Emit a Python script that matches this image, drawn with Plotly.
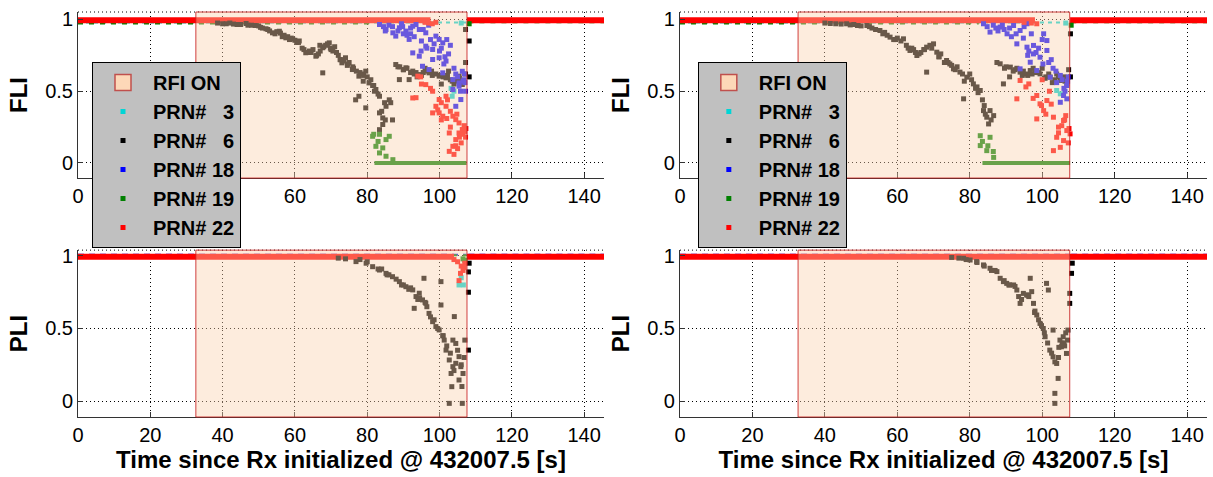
import plotly.graph_objects as go

# ---------------- data ----------------
rfi_start = 32.6
rfi_end = 107.6
x_ticks = [0, 20, 40, 60, 80, 100, 120, 140]
y_ticks = [0, 0.5, 1]
y_tick_text = ["0", "0.5", "1"]
prn_names = ["PRN#\u00a0\u00a0\u00a03", "PRN#\u00a0\u00a0\u00a06", "PRN#\u00a018", "PRN#\u00a019", "PRN#\u00a022"]
prn_colors = ["#00d5d5", "#000000", "#0000ff", "#008000", "#ff0000"]

# steady (locked) segments: time, value  (None = gap)
fli_L_base = {
    "3":  ([0, 107.5, None, 108, 145.5], [0.978, 0.978, None, 0.985, 0.985]),
    "6":  ([0, 38, None, 108, 145.5], [0.982, 0.982, None, 0.985, 0.985]),
    "18": ([0, 83, None, 108, 145.5], [0.985, 0.985, None, 0.99, 0.99]),
    "19": ([0, 81.5, None, 108, 145.5], [0.972, 0.972, None, 0.98, 0.98]),
    "22": ([0, 97.5, None, 107.6, 145.5], [0.995, 0.995, None, 0.995, 0.995]),
}
fli_L_zero19 = ([82, 107.5], [0.0, 0.0])
fli_R_base = {
    "3":  ([0, 107.6, None, 108, 145.5], [0.978, 0.978, None, 0.985, 0.985]),
    "6":  ([0, 39, None, 108, 145.5], [0.982, 0.982, None, 0.985, 0.985]),
    "18": ([0, 83, None, 108, 145.5], [0.985, 0.985, None, 0.99, 0.99]),
    "19": ([0, 82.5, None, 108, 145.5], [0.972, 0.972, None, 0.98, 0.98]),
    "22": ([0, 98, None, 107.7, 145.5], [0.995, 0.995, None, 0.995, 0.995]),
}
fli_R_zero19 = ([83.5, 107.7], [0.0, 0.0])
pli_L_base = {
    "3":  ([0, 104, None, 108, 145.5], [1.0, 1.0, None, 1.0, 1.0]),
    "6":  ([0, 72, None, 108.5, 145.5], [1.0, 1.0, None, 1.0, 1.0]),
    "18": ([0, 107.5, None, 108, 145.5], [1.008, 1.008, None, 1.008, 1.008]),
    "19": ([0, 107.5, None, 108, 145.5], [1.005, 1.005, None, 1.005, 1.005]),
    "22": ([0, 104, None, 107.6, 145.5], [0.995, 0.995, None, 0.995, 0.995]),
}
pli_R_base = {
    "3":  ([0, 107.5, None, 108, 145.5], [1.0, 1.0, None, 1.0, 1.0]),
    "6":  ([0, 74, None, 108.5, 145.5], [1.0, 1.0, None, 1.0, 1.0]),
    "18": ([0, 107.5, None, 108, 145.5], [1.008, 1.008, None, 1.008, 1.008]),
    "19": ([0, 107.5, None, 108, 145.5], [1.005, 1.005, None, 1.005, 1.005]),
    "22": ([0, 107.6, None, 107.6, 145.5], [0.995, 0.995, None, 0.995, 0.995]),
}

# ---- scattered samples, top-left FLI ----
fli_L_t3 = [103.5, 103.2, 104.0, 106.0]
fli_L_v3 = [0.465, 0.52, 0.50, 0.975]
fli_L_t6 = [38.6, 40, 42, 44, 46.5, 48, 50, 51, 52.5, 53.8, 55, 55.7, 57, 57.5, 59, 59.4, 61.2, 62, 63, 64,
            65, 65.8, 66.5, 67.7, 68.5, 69.5, 70.5, 71, 67.7, 72, 73, 74, 75, 75.9, 77, 77.7, 78.5, 79.6, 80.5, 81,
            82.4, 83.4, 77.7, 76.8, 79.6, 83.4, 84.3, 85.2, 86.1, 84.3, 83.4, 85.0, 87.9, 89, 90.7, 92.6, 94.4, 88.9, 91.6, 93,
            95.5, 97.1, 98, 99.9, 101, 101.8, 103, 104.5, 105.5, 106.3, 105.4, 106.8, 100.5, 102.5, 96, 107.2, 107.2, 107.2, 108.2, 108.2,
            60.5, 63.8, 66.9, 69.8, 72.6, 74.6, 76.2, 78.9, 81.8, 84.8, 90, 93.8, 97.8, 102.2, 104,
            41, 43, 45, 47, 49, 50.5, 52, 53, 54.5, 56, 56.5, 58, 58.5, 60, 61, 62.5, 64.5, 66, 67, 68,
            69, 70, 71.5, 72.5, 73.5, 74.5, 76, 78, 79, 80, 81.5, 82, 83, 84, 86.5, 87, 88.5, 90, 91, 92,
            93.5, 95, 96.5, 99, 100, 103.5, 105, 106]
fli_L_v6 = [0.975, 0.97, 0.975, 0.965, 0.972, 0.96, 0.955, 0.94, 0.93, 0.907, 0.915, 0.918, 0.89, 0.872, 0.87, 0.863, 0.85, 0.80, 0.768, 0.78,
            0.79, 0.744, 0.76, 0.803, 0.82, 0.837, 0.78, 0.81, 0.628, 0.75, 0.698, 0.733, 0.70, 0.651, 0.64, 0.605, 0.62, 0.64, 0.558, 0.58,
            0.512, 0.465, 0.465, 0.44, 0.384, 0.349, 0.314, 0.395, 0.44, 0.268, 0.232, 0.30, 0.686, 0.67, 0.663, 0.640, 0.616, 0.581, 0.581, 0.62,
            0.63, 0.628, 0.61, 0.605, 0.60, 0.593, 0.58, 0.57, 0.59, 0.547, 0.605, 0.56, 0.55, 0.64, 0.66, 0.62, 0.70, 0.93, 0.60, 0.85,
            0.84, 0.77, 0.82, 0.80, 0.72, 0.69, 0.66, 0.57, 0.54, 0.42, 0.65, 0.60, 0.64, 0.61, 0.55,
            0.97, 0.968, 0.965, 0.96, 0.958, 0.945, 0.935, 0.92, 0.90, 0.905, 0.88, 0.88, 0.86, 0.855, 0.84, 0.79, 0.77, 0.75, 0.78, 0.81,
            0.83, 0.79, 0.77, 0.72, 0.71, 0.68, 0.67, 0.63, 0.61, 0.60, 0.54, 0.50, 0.48, 0.36, 0.42, 0.30, 0.67, 0.65, 0.66, 0.63,
            0.63, 0.61, 0.64, 0.62, 0.61, 0.57, 0.58, 0.57]
fli_L_t18 = [83.4, 85.2, 87.1, 88.9, 90.7, 92.6, 94.4, 96.2, 87.9, 91.6, 92.6, 94.4, 96.2, 98.1, 99, 99.9, 100.9, 98.1, 99.9, 101.8,
             95.3, 97.1, 100.9, 103.7, 105.4, 106.3, 103.7, 104.5, 105.9, 105.4, 86, 89.5, 93.5, 97, 84.5, 91, 95, 102.5, 103, 104,
             106.8, 107.2, 100, 97.5, 89.8, 92, 94.9, 101.2, 105, 106.9,
             85, 87, 88.5, 90, 92, 93, 95.5, 96.5, 98.5, 100.5, 101.5, 102, 104.5, 105.8, 106.5, 107]
fli_L_v18 = [0.965, 0.93, 0.907, 0.942, 0.919, 0.953, 0.93, 0.907, 0.884, 0.861, 0.767, 0.744, 0.814, 0.791, 0.884, 0.861, 0.837, 0.721, 0.733, 0.71,
             0.674, 0.651, 0.628, 0.581, 0.535, 0.639, 0.512, 0.395, 0.442, 0.558, 0.96, 0.97, 0.965, 0.96, 0.95, 0.89, 0.85, 0.76, 0.82, 0.66,
             0.58, 0.50, 0.78, 0.86, 0.95, 0.90, 0.78, 0.69, 0.60, 0.62,
             0.92, 0.95, 0.92, 0.90, 0.94, 0.88, 0.93, 0.80, 0.83, 0.80, 0.74, 0.86, 0.62, 0.50, 0.57, 0.56]
fli_L_t19 = [81.5, 83.4, 85.2, 86.1, 82.4, 84.3, 83.4, 85.2, 87.1, 81.8, 83.0, 108.2]
fli_L_v19 = [0.186, 0.20, 0.163, 0.186, 0.116, 0.105, 0.07, 0.047, 0.023, 0.20, 0.15, 0.97]
fli_L_t22 = [92.6, 94.0, 96.2, 98.1, 99.0, 99.9, 98.1, 100.9, 101.8, 102.7, 103.7, 104.5, 105.4, 106.3, 104.5, 105.4, 103.7, 99.9, 101.8, 102.7,
             93.5, 100.5, 103.0, 106.8, 107.2, 105.0, 104.0, 106.0, 96, 97, 98, 99, 94.8, 102.2, 104.8, 107.0,
             95, 97.5, 99.5, 100.5, 102, 103, 104.5, 105.5, 106.5, 107.3]
fli_L_v22 = [0.453, 0.605, 0.546, 0.50, 0.395, 0.442, 0.349, 0.326, 0.465, 0.209, 0.116, 0.163, 0.209, 0.233, 0.302, 0.279, 0.326, 0.349, 0.395, 0.081,
             0.455, 0.30, 0.36, 0.26, 0.18, 0.10, 0.06, 0.14, 0.98, 0.975, 0.97, 0.98, 0.60, 0.44, 0.34, 0.22,
             0.55, 0.52, 0.37, 0.42, 0.31, 0.25, 0.12, 0.18, 0.20, 0.24]

# ---- scattered samples, top-right FLI ----
fli_R_t3 = [105.0, 104.0, 106.5]
fli_R_v3 = [0.482, 0.505, 0.975]
fli_R_t6 = [40, 43, 46, 48, 50, 51.6, 53, 55.2, 56.5, 58, 60, 61.7, 62.5, 63.5, 64.5, 65.4, 66.5, 68.1, 69, 70,
            70.9, 72, 68.1, 73.6, 74.5, 75.5, 76.5, 77.3, 79.2, 80, 81, 82, 82.9, 78.3, 83.8, 84.7, 85.6, 86.6, 85.2, 84,
            88.4, 90, 91.2, 92.5, 93.9, 95.5, 96.7, 98, 99.4, 101, 102.2, 103.5, 105, 106, 106.8, 89.3, 91, 100, 104, 107.3,
            107.8, 107.8, 59, 64, 67.3, 71.5, 75, 78.5, 81.6, 83.5, 94.5, 97.5, 102.8, 105.5,
            41.5, 44.5, 47, 49, 52.3, 54, 56, 57.2, 59.5, 61, 63, 65, 66, 67.5, 69.5, 71.5, 73, 74, 76, 78,
            80.5, 82.3, 84.3, 85.9, 87.5, 89.6, 92, 93, 94.8, 96, 97.2, 99, 100.8, 101.8, 104.5, 106.3]
fli_R_v6 = [0.975, 0.97, 0.97, 0.965, 0.955, 0.958, 0.94, 0.923, 0.91, 0.877, 0.87, 0.865, 0.82, 0.784, 0.79, 0.749, 0.77, 0.807, 0.82, 0.830,
            0.772, 0.76, 0.633, 0.714, 0.69, 0.656, 0.67, 0.633, 0.598, 0.62, 0.551, 0.53, 0.505, 0.447, 0.365, 0.319, 0.365, 0.330, 0.272, 0.40,
            0.691, 0.67, 0.668, 0.65, 0.633, 0.62, 0.644, 0.63, 0.621, 0.60, 0.598, 0.58, 0.575, 0.60, 0.551, 0.551, 0.60, 0.66, 0.62, 0.65,
            0.90, 0.60, 0.86, 0.80, 0.79, 0.74, 0.68, 0.57, 0.52, 0.44, 0.61, 0.66, 0.56, 0.58,
            0.972, 0.968, 0.962, 0.958, 0.95, 0.93, 0.90, 0.89, 0.86, 0.85, 0.80, 0.77, 0.76, 0.79, 0.80, 0.74, 0.70, 0.70, 0.65, 0.62,
            0.58, 0.49, 0.34, 0.30, 0.70, 0.66, 0.64, 0.66, 0.64, 0.61, 0.62, 0.63, 0.59, 0.62, 0.60, 0.57]
fli_R_t18 = [83.8, 85.6, 88.4, 90.3, 92.1, 93.9, 95.8, 93.0, 95.8, 97.6, 100.4, 101.3, 97.6, 99.4, 96.7, 101.3, 93.9, 98.5, 102.2, 105.0,
             106.8, 105.9, 105.0, 106.8, 86.5, 89.5, 91.5, 94.8, 97, 99, 100.2, 103, 104, 107.2, 87.2, 96, 102.5, 106,
             84.8, 87.8, 89, 91, 92.8, 95, 96.3, 98.3, 100, 101.8, 103.8, 105.5, 106.3, 107]
fli_R_v18 = [0.970, 0.912, 0.947, 0.900, 0.958, 0.923, 0.970, 0.830, 0.807, 0.819, 0.900, 0.853, 0.760, 0.737, 0.702, 0.784, 0.656, 0.644, 0.598, 0.610,
             0.540, 0.470, 0.423, 0.447, 0.96, 0.93, 0.88, 0.87, 0.90, 0.80, 0.69, 0.66, 0.56, 0.60, 0.94, 0.75, 0.72, 0.52,
             0.95, 0.92, 0.96, 0.94, 0.90, 0.95, 0.78, 0.77, 0.86, 0.70, 0.64, 0.58, 0.50, 0.57]
fli_R_t19 = [82.9, 85.6, 82.9, 84.7, 86.6, 83.5, 85.0, 86.5, 108.0]
fli_R_v19 = [0.19, 0.179, 0.121, 0.086, 0.039, 0.15, 0.12, 0.08, 0.96]
fli_R_t22 = [93.9, 93.0, 96.3, 98.5, 99.4, 100.4, 98.5, 101.3, 103.1, 105.9, 104.0, 105.9, 105.0, 103.1, 106.8, 107.7, 95, 97, 98.5, 102,
             104.5, 106.5, 100, 107.2, 95.5, 97.5, 99.8, 101, 102.5, 104.5, 105.4, 106.2, 107.4]
fli_R_v22 = [0.575, 0.447, 0.551, 0.470, 0.412, 0.365, 0.307, 0.435, 0.319, 0.296, 0.179, 0.156, 0.109, 0.086, 0.226, 0.203, 0.98, 0.975, 0.97, 0.50,
             0.25, 0.33, 0.58, 0.14, 0.53, 0.45, 0.40, 0.34, 0.41, 0.21, 0.26, 0.30, 0.24]

# ---- scattered samples, bottom-left PLI ----
pli_L_t3 = [105.4, 106.6, 106.0]
pli_L_v3 = [0.80, 0.80, 0.85]
pli_L_t6 = [76.9, 78, 79.7, 81.5, 83.4, 85.2, 87, 88.9, 90.7, 92.6, 93.5, 94.4, 95.3, 93, 95.7, 96.2, 97.1, 98.1, 99, 99.9,
            100.4, 100.4, 101.3, 101.8, 103.7, 104.1, 102.7, 103.7, 103.2, 104.5, 105.4, 105.9, 105.4, 102.7, 106.3, 103.4, 104.5, 108.0, 108.0, 108.0,
            108.2, 80, 84, 86, 89.5, 91.5, 94, 96.5, 98.5, 100.9, 102, 106.5, 106.8, 107, 106.2, 72, 74,
            83, 85.5, 88, 90, 92, 94.5, 96, 97.5, 99.5, 101, 103, 104, 105, 106]
pli_L_v6 = [0.961, 0.975, 0.95, 0.926, 0.903, 0.88, 0.857, 0.823, 0.788, 0.766, 0.72, 0.743, 0.697, 0.639, 0.846, 0.674, 0.604, 0.547, 0.513, 0.49,
            0.823, 0.662, 0.42, 0.351, 0.42, 0.582, 0.283, 0.237, 0.19, 0.397, 0.306, 0.237, 0.145, -0.016, -0.016, 0.099, 0.26, 0.351, 0.75, 0.89,
            0.95, 0.96, 0.91, 0.87, 0.80, 0.77, 0.70, 0.65, 0.56, 0.45, 0.38, 0.19, 0.30, 0.42, 0.10, 0.985, 0.98,
            0.91, 0.87, 0.84, 0.80, 0.78, 0.71, 0.68, 0.58, 0.50, 0.45, 0.33, 0.21, 0.35, 0.25]
pli_L_t19 = [106.5, 107.0]
pli_L_v19 = [0.98, 0.97]
pli_L_t22 = [105.4, 106.5, 106.0, 107.0, 105.0, 104.0, 106.8, 105.8]
pli_L_v22 = [0.83, 0.90, 0.93, 0.95, 0.96, 0.975, 0.92, 0.88]

# ---- scattered samples, bottom-right PLI ----
pli_R_t6 = [78.3, 80.1, 81.9, 83.8, 85.6, 87.5, 88.4, 89.3, 90.2, 92.1, 93.0, 93.9, 94.8, 95.7, 96.7, 97.1, 97.6, 98.5, 99.4, 100.3,
            101.2, 101.7, 100.8, 102.1, 103.0, 104.0, 103.0, 104.9, 105.3, 105.8, 106.7, 107.1, 104.4, 103.5, 103.5, 107.6, 107.6, 108.1, 75, 77,
            79, 82, 86, 89.5, 91, 93.5, 96, 98, 99, 101.5, 103.5, 104.5, 106, 106.5, 107, 108.3,
            84, 87, 90.8, 92.5, 94.3, 96.3, 97.9, 99.8, 100.6, 102.6, 104.6, 105.5, 106.2]
pli_R_v6 = [0.984, 0.972, 0.961, 0.938, 0.915, 0.892, 0.846, 0.823, 0.811, 0.80, 0.765, 0.673, 0.742, 0.731, 0.846, 0.754, 0.673, 0.593, 0.535, 0.50,
            0.811, 0.765, 0.443, 0.351, 0.305, 0.259, 0.489, 0.42, 0.374, 0.443, 0.328, 0.489, 0.156, 0.053, -0.016, 0.742, 0.673, 0.88, 0.99, 0.985,
            0.975, 0.955, 0.90, 0.83, 0.80, 0.72, 0.73, 0.62, 0.56, 0.40, 0.27, 0.30, 0.40, 0.47, 0.42, 0.95,
            0.93, 0.90, 0.80, 0.79, 0.70, 0.72, 0.61, 0.52, 0.47, 0.33, 0.37, 0.40, 0.38]

# ---------------- figure ----------------
FONT = "Liberation Sans, Arial, sans-serif"
fig = go.Figure()

panels = [
    ("x", "y", fli_L_base, {"3": (fli_L_t3, fli_L_v3), "6": (fli_L_t6, fli_L_v6), "18": (fli_L_t18, fli_L_v18),
                            "19": (fli_L_t19, fli_L_v19), "22": (fli_L_t22, fli_L_v22)}, fli_L_zero19, "legend"),
    ("x2", "y2", fli_R_base, {"3": (fli_R_t3, fli_R_v3), "6": (fli_R_t6, fli_R_v6), "18": (fli_R_t18, fli_R_v18),
                              "19": (fli_R_t19, fli_R_v19), "22": (fli_R_t22, fli_R_v22)}, fli_R_zero19, "legend2"),
    ("x3", "y3", pli_L_base, {"3": (pli_L_t3, pli_L_v3), "6": (pli_L_t6, pli_L_v6), "18": ([], []),
                              "19": (pli_L_t19, pli_L_v19), "22": (pli_L_t22, pli_L_v22)}, None, None),
    ("x4", "y4", pli_R_base, {"3": ([], []), "6": (pli_R_t6, pli_R_v6), "18": ([], []),
                              "19": ([], []), "22": ([], [])}, None, None),
]
keys = ["3", "6", "18", "19", "22"]
base_width = {"3": 2, "6": 2, "18": 2, "19": 2, "22": 6}
base_dash = {"3": "4px,4px", "6": "solid", "18": "6px,5px", "19": "5px,6px", "22": "solid"}

for xa, ya, base, scat, zero19, leg in panels:
    if leg is not None:
        fig.add_trace(go.Scatter(x=[None], y=[None], mode="markers", name="RFI ON",
                                 marker=dict(symbol="square", size=16, color="#fdd8b8",
                                             line=dict(color="#c0504d", width=1.5)),
                                 xaxis=xa, yaxis=ya, legend=leg, showlegend=True))
    for k, c in zip(keys, prn_colors):
        bt, bv = base[k]
        fig.add_trace(go.Scatter(x=bt, y=bv, mode="lines", line=dict(color=c, width=base_width[k], dash=base_dash[k]),
                                 xaxis=xa, yaxis=ya, showlegend=False, hoverinfo="skip"))
    if zero19 is not None:
        fig.add_trace(go.Scatter(x=zero19[0], y=zero19[1], mode="lines", line=dict(color=prn_colors[3], width=4),
                                 xaxis=xa, yaxis=ya, showlegend=False))
    for k, c, nm in zip(keys, prn_colors, prn_names):
        st, sv = scat[k]
        fig.add_trace(go.Scatter(x=st if st else [None], y=sv if sv else [None], mode="markers", name=nm,
                                 marker=dict(color=c, size=5, symbol="square", line=dict(width=0)),
                                 xaxis=xa, yaxis=ya, showlegend=leg is not None,
                                 legend=leg if leg else "legend"))

ax_common = dict(showline=True, linecolor="#333333", linewidth=1, ticks="inside", ticklen=5, tickcolor="#333333",
                 showgrid=True, gridcolor="black", griddash="1px,3px", gridwidth=1, zeroline=False, mirror=False,
                 tickfont=dict(family=FONT, size=20, color="black"), automargin=False)
xdom_L = [0.0, 0.4659]
xdom_R = [0.5332, 1.0]
ydom_T = [0.590, 1.0]
ydom_B = [0.0, 0.412]
xtitle = dict(text="Time since Rx initialized @ 432007.5 [s]",
              font=dict(family=FONT, size=24, color="black", weight="bold"), standoff=6)

def xa(dom, anchor, title=None):
    d = dict(ax_common, domain=dom, anchor=anchor, range=[0, 145.5], tickvals=x_ticks)
    if title:
        d["title"] = title
    return d

def ya(dom, anchor, rng, label):
    return dict(ax_common, domain=dom, anchor=anchor, range=rng, tickvals=y_ticks, ticktext=y_tick_text,
                title=dict(text=label, font=dict(family=FONT, size=24, color="black", weight="bold"), standoff=10))

legend_style = dict(xanchor="left", yanchor="top", bgcolor="#c0c0c0", bordercolor="black",
                    borderwidth=1, font=dict(family=FONT, size=20, color="black", weight="bold"), tracegroupgap=0,
                    itemwidth=50)

fig.update_layout(
    width=1213, height=477,
    margin=dict(l=78, r=6, t=12, b=60),
    paper_bgcolor="white", plot_bgcolor="white",
    xaxis=xa(xdom_L, "y"), yaxis=ya(ydom_T, "x", [-0.105, 1.052], "FLI"),
    xaxis2=xa(xdom_R, "y2"), yaxis2=ya(ydom_T, "x2", [-0.105, 1.052], "FLI"),
    xaxis3=xa(xdom_L, "y3", xtitle), yaxis3=ya(ydom_B, "x3", [-0.11, 1.04], "PLI"),
    xaxis4=xa(xdom_R, "y4", xtitle), yaxis4=ya(ydom_B, "x4", [-0.11, 1.04], "PLI"),
    legend=dict(legend_style, x=0.0124, y=0.8765),
    legend2=dict(legend_style, x=0.549, y=0.8765),
    showlegend=True,
)

shapes = []
for xr, yr in [("x", "y"), ("x2", "y2"), ("x3", "y3"), ("x4", "y4")]:
    shapes.append(dict(type="rect", xref=xr, yref=yr + " domain", x0=rfi_start, x1=rfi_end, y0=0, y1=1,
                       fillcolor="rgba(250,210,175,0.42)", line=dict(color="rgba(200,30,30,0.85)", width=1),
                       layer="above"))
    shapes.append(dict(type="line", xref=xr + " domain", yref=yr + " domain", x0=0, x1=1, y0=1, y1=1,
                       line=dict(color="black", width=1, dash="1px,3px"), layer="below"))
fig.update_layout(shapes=shapes)

fig.write_html("out.html", config={"displayModeBar": False},
               post_script="document.body.style.margin='0';document.body.style.overflow='hidden';")
